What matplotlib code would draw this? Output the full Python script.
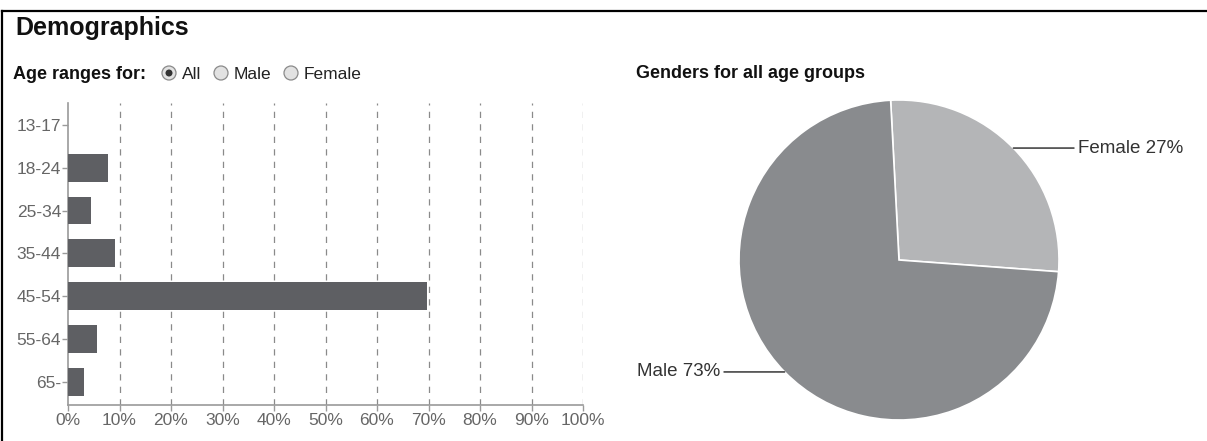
import matplotlib
matplotlib.use('Agg')
import matplotlib.pyplot as plt
import numpy as np
from matplotlib.lines import Line2D
from matplotlib.patches import Circle

plt.rcParams['font.family'] = ['Liberation Sans', 'DejaVu Sans']

# 数据
age_groups = ['13-17', '18-24', '25-34', '35-44', '45-54', '55-64', '65-']
age_share = [0.0, 7.8, 4.5, 9.1, 69.7, 5.6, 3.1]
x_ticks = [0, 10, 20, 30, 40, 50, 60, 70, 80, 90, 100]
x_tick_labels = [f'{t}%' for t in x_ticks]

genders = ['Female', 'Male']
gender_share = [27, 73]
gender_colors = ['#b4b5b7', '#898b8e']

W, H = 1207, 441
fig = plt.figure(figsize=(W / 100, H / 100), dpi=100)
fig.patch.set_facecolor('white')

def fx(px):
    return px / W

def fy(py):
    return 1 - py / H

# 外框(上边和左边)
fig.add_artist(Line2D([fx(2), 1], [fy(11), fy(11)], color='black', lw=1.6))
fig.add_artist(Line2D([fx(2), fx(2)], [fy(11), 0], color='black', lw=1.6))

# 标题
fig.text(fx(15), fy(35), 'Demographics', fontsize=18, fontweight='bold', color='#111111')
fig.text(fx(13), fy(79), 'Age ranges for:', fontsize=13, fontweight='bold', color='#111111')

# 单选按钮
radios = [('All', 169, True), ('Male', 221, False), ('Female', 291, False)]
for label, cx, selected in radios:
    c = (cx / 100, (H - 73) / 100)
    fig.add_artist(Circle(c, 0.07, transform=fig.dpi_scale_trans,
                          facecolor='#e2e2e2', edgecolor='#8a8a8a', lw=0.9))
    if selected:
        fig.add_artist(Circle(c, 0.035, transform=fig.dpi_scale_trans,
                              facecolor='#333333', edgecolor='none'))
    fig.text(fx(cx + 13), fy(79), label, fontsize=12.5, color='#222222')

fig.text(fx(636), fy(78), 'Genders for all age groups', fontsize=13,
         fontweight='bold', color='#111111')

# 条形图
ax = fig.add_axes([fx(68), fy(405), fx(583) - fx(68), fy(103) - fy(405)])
y = np.arange(len(age_groups))
ax.barh(y, age_share, height=0.65, color='#5e5f63', zorder=3)
ax.set_xlim(0, 100)
ax.set_ylim(len(age_groups) - 0.46, -0.51)
ax.set_yticks(y)
ax.set_yticklabels(age_groups)
ax.set_xticks(x_ticks)
ax.set_xticklabels(x_tick_labels)
for t in x_ticks[1:]:
    ax.axvline(t, color='#8a8a8a', lw=0.9, ls=(0, (5, 5)), zorder=1)
for s in ['top', 'right']:
    ax.spines[s].set_visible(False)
for s in ['left', 'bottom']:
    ax.spines[s].set_color('#9a9a9a')
    ax.spines[s].set_linewidth(1.2)
ax.tick_params(axis='both', colors='#9a9a9a', labelcolor='#666666',
               labelsize=12.5, length=4, width=1)
ax.tick_params(axis='y', pad=1)
ax.tick_params(axis='x', pad=2)

# 饼图
R = 160
half = 175
pax = fig.add_axes([fx(899 - half), fy(260 + half), 2 * half / W, 2 * half / H])
lim = half / R
wedges, _ = pax.pie(gender_share, colors=gender_colors, startangle=93,
                    counterclock=False, radius=1,
                    wedgeprops=dict(edgecolor='white', linewidth=1.2))
pax.set_xlim(-lim, lim)
pax.set_ylim(-lim, lim)
pax.set_aspect('equal')
pax.axis('off')

for w, name, val in zip(wedges, genders, gender_share):
    mid = np.deg2rad((w.theta1 + w.theta2) / 2)
    px, py = np.cos(mid), np.sin(mid)
    side = 1 if px > 0 else -1
    tx = 1.12 * side
    pax.annotate(f'{name} {val}%', xy=(px, py), xytext=(tx, py),
                 ha='left' if side > 0 else 'right', va='center',
                 fontsize=13.5, color='#333333', annotation_clip=False,
                 arrowprops=dict(arrowstyle='-', color='#222222', lw=1,
                                 shrinkA=1, shrinkB=0,
                                 relpos=(0, 0.5) if side > 0 else (1, 0.5)))

fig.savefig('out.png', dpi=100)
